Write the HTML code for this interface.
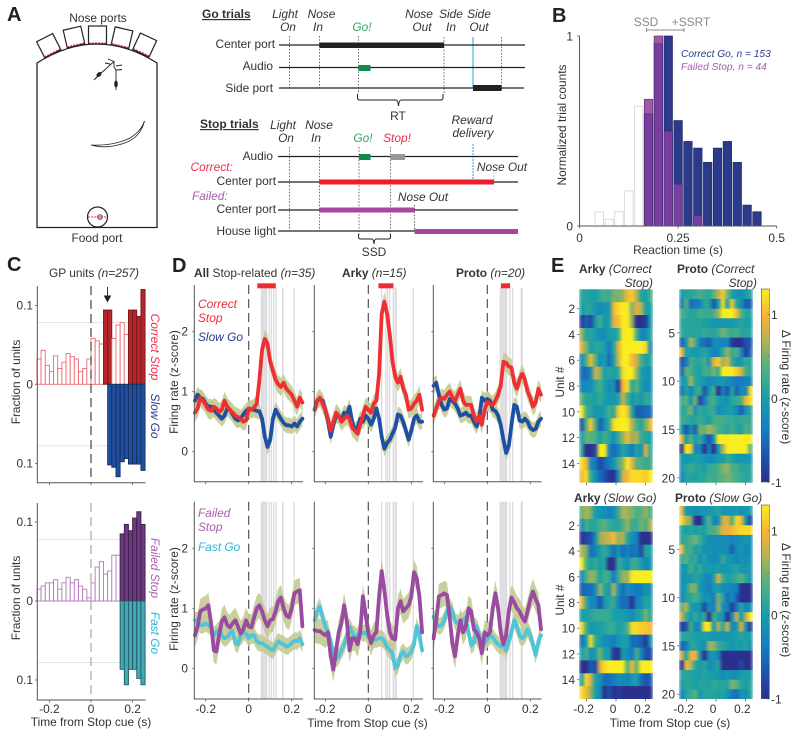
<!DOCTYPE html>
<html lang="en">
<head>
<meta charset="utf-8">
<title>Stop trial neural activity figure</title>
<style>
html,body{margin:0;padding:0;background:#fff;}
svg{display:block;font-family:"Liberation Sans",sans-serif;fill:#222;}
.pl{font-weight:bold;font-size:20px;fill:#222;}
.t{font-size:11.9px;fill:#333;}
.it{font-size:11.9px;font-style:italic;fill:#333;}
.m{text-anchor:middle;}
.e{text-anchor:end;}
</style>
</head>
<body>
<svg id="fig" xmlns="http://www.w3.org/2000/svg" width="800" height="737" viewBox="0 0 800 737">
<rect x="0" y="0" width="800" height="737" fill="#fff"/>

<!-- Panel A -->
<g>
<text class="pl" x="7" y="21">A</text>
<text class="t m" x="98" y="22">Nose ports</text>
<text class="t m" x="97" y="242">Food port</text>
<g fill="#fff" stroke="#222" stroke-width="1.2">
<g transform="translate(48.7,45.7) rotate(-27)"><rect x="-9" y="-9" width="18" height="18"/><line x1="-9" y1="8" x2="9" y2="8" stroke="#e8203a" stroke-dasharray="2 1.2" stroke-width="1"/></g>
<g transform="translate(74,37) rotate(-13)"><rect x="-9" y="-9" width="18" height="18"/><line x1="-9" y1="8" x2="9" y2="8" stroke="#e8203a" stroke-dasharray="2 1.2" stroke-width="1"/></g>
<g transform="translate(97.5,35)"><rect x="-9" y="-9" width="18" height="18"/><line x1="-9" y1="8" x2="9" y2="8" stroke="#e8203a" stroke-dasharray="2 1.2" stroke-width="1"/></g>
<g transform="translate(122,37.7) rotate(13)"><rect x="-9" y="-9" width="18" height="18"/><line x1="-9" y1="8" x2="9" y2="8" stroke="#e8203a" stroke-dasharray="2 1.2" stroke-width="1"/></g>
<g transform="translate(144.7,45) rotate(25)"><rect x="-9" y="-9" width="18" height="18"/><line x1="-9" y1="8" x2="9" y2="8" stroke="#e8203a" stroke-dasharray="2 1.2" stroke-width="1"/></g>
</g>
<path d="M37,227.5 L37,63 Q97,25 157,63 L157,227.5 Z" fill="none" stroke="#222" stroke-width="1.3"/>
<circle cx="97.5" cy="217" r="10" fill="#fff" stroke="#222" stroke-width="1.2"/>
<circle cx="100" cy="217" r="2.5" fill="#e8a0a0" stroke="#333" stroke-width="0.6"/>
<line x1="88" y1="217" x2="106" y2="217" stroke="#e8203a" stroke-width="1" stroke-dasharray="2 1.2"/>
<path d="M94,80 L99,75 L109,66 L114,61.5 L108,59 M114,61.5 L114,67 L116,70 L116,90 M110,64 L105,63 M116,66 L122,65 M116,70 L122,69.5" fill="none" stroke="#222" stroke-width="0.9"/>
<ellipse cx="99" cy="74.5" rx="2" ry="3" transform="rotate(45 99 74.5)" fill="#222"/>
<ellipse cx="116" cy="84" rx="1.8" ry="3.5" fill="#222"/>
<path d="M144.5,121 C141,135 132,142 118,145 C108,147.5 98,147 91,145 C106,146 120,143 130,138 C138,133 142,128 144.5,121 Z" fill="#fff" stroke="#222" stroke-width="0.8"/>
</g>

<!-- Go / Stop task diagram -->
<g>
<text x="202" y="18" font-weight="bold" font-size="12" fill="#333" text-decoration="underline">Go trials</text>
<g stroke="#333" stroke-width="0.7" stroke-dasharray="1.6 1.6" fill="none">
<line x1="289.5" y1="36" x2="289.5" y2="90"/>
<line x1="319.5" y1="36" x2="319.5" y2="90"/>
<line x1="358.5" y1="36" x2="358.5" y2="94"/>
<line x1="444" y1="37" x2="444" y2="94"/>
<line x1="501.5" y1="37" x2="501.5" y2="90"/>
<line x1="289.5" y1="147" x2="289.5" y2="231"/>
<line x1="319.5" y1="147" x2="319.5" y2="231"/>
<line x1="359" y1="147" x2="359" y2="235"/>
<line x1="390.5" y1="147" x2="390.5" y2="235"/>
<line x1="414.5" y1="205" x2="414.5" y2="231"/>
<line x1="494" y1="172" x2="494" y2="181" stroke="#888"/>
</g>
<line x1="473" y1="37" x2="473" y2="88" stroke="#27a9d8" stroke-width="1"/>
<line x1="473" y1="144" x2="473" y2="181" stroke="#27a9d8" stroke-width="1" stroke-dasharray="2 1"/>
<g stroke="#222" stroke-width="1.2">
<line x1="279" y1="45" x2="525" y2="45"/>
<line x1="279" y1="67.5" x2="525" y2="67.5"/>
<line x1="279" y1="88" x2="524" y2="88"/>
<line x1="278" y1="156.5" x2="518" y2="156.5"/>
<line x1="278" y1="182" x2="518" y2="182"/>
<line x1="278" y1="210" x2="518" y2="210"/>
<line x1="278" y1="231" x2="518" y2="231"/>
</g>
<rect x="319.5" y="42.5" width="124.5" height="5.5" fill="#222"/>
<rect x="358.5" y="65" width="12" height="6" fill="#0f8a4a"/>
<rect x="473" y="85" width="28.5" height="6" fill="#222"/>
<rect x="359" y="154" width="11.5" height="6" fill="#0f8a4a"/>
<rect x="390.5" y="154" width="14.5" height="6" fill="#999"/>
<rect x="319.5" y="179.5" width="174.5" height="5" fill="#ee1c2c"/>
<rect x="319.5" y="207.5" width="95" height="5" fill="#a9479f"/>
<rect x="414.5" y="229" width="103.5" height="5" fill="#a9479f"/>
<path d="M357.5,94 L357.5,98 Q357.5,100 360,100 L396,100 Q398,100 398.5,106 Q399,100 401,100 L440,100 Q443,100 443,98 L443,94" fill="none" stroke="#222" stroke-width="1"/>
<path d="M358.5,234 L358.5,237 Q358.5,239 361,239 L372,239 Q373.5,239 374,244 Q374.5,239 376,239 L388,239 Q390.5,239 390.5,237 L390.5,234" fill="none" stroke="#222" stroke-width="1"/>
<text class="t m" x="398" y="120">RT</text>
<text class="t m" x="374" y="256">SSD</text>
<g class="it">
<text class="it m" x="285" y="18">Light</text>
<text class="it m" x="288" y="31">On</text>
<text class="it m" x="321.5" y="18">Nose</text>
<text class="it m" x="318" y="31">In</text>
<text class="it m" x="362" y="31" style="fill:#2aa866">Go!</text>
<text class="it m" x="419" y="18">Nose</text>
<text class="it m" x="422" y="31">Out</text>
<text class="it m" x="451" y="18">Side</text>
<text class="it m" x="451" y="31">In</text>
<text class="it m" x="479" y="18">Side</text>
<text class="it m" x="479" y="31">Out</text>
<text class="it m" x="283" y="129">Light</text>
<text class="it m" x="286" y="142">On</text>
<text class="it m" x="319" y="129">Nose</text>
<text class="it m" x="316" y="142">In</text>
<text class="it m" x="363" y="142" style="fill:#2aa866">Go!</text>
<text class="it m" x="397" y="142" style="fill:#ee2c4a">Stop!</text>
<text class="it m" x="472" y="124">Reward</text>
<text class="it m" x="473" y="137">delivery</text>
<text class="it m" x="502" y="171">Nose Out</text>
<text class="it m" x="423" y="201">Nose Out</text>
<text class="it" x="190.5" y="171" style="fill:#ee2c4a">Correct:</text>
<text class="it" x="192" y="200" style="fill:#a860b0">Failed:</text>
</g>
<text class="t e" x="275" y="48">Center port</text>
<text class="t e" x="273" y="70">Audio</text>
<text class="t e" x="273" y="92">Side port</text>
<text x="200" y="128" font-weight="bold" font-size="12" fill="#333" text-decoration="underline">Stop trials</text>
<text class="t e" x="273" y="160">Audio</text>
<text class="t e" x="276" y="185">Center port</text>
<text class="t e" x="276" y="213">Center port</text>
<text class="t e" x="276" y="235">House light</text>
</g>

<!-- Panel B static text -->
<g>
<text class="pl" x="552" y="22">B</text>
<text class="t m" x="646" y="26" style="fill:#888">SSD</text>
<text class="t m" x="691" y="26" style="fill:#888">+SSRT</text>
<path d="M646.5,28 V32 M646.5,30 H684 M684,28 V32" stroke="#888" fill="none" stroke-width="0.9"/>
<text x="681" y="57" font-size="10.2" font-style="italic" fill="#2b3a8f">Correct Go, n = 153</text>
<text x="681" y="70" font-size="10.2" font-style="italic" fill="#a860b0">Failed Stop, n = 44</text>
<text class="t m" transform="translate(566,125) rotate(-90)">Normalized trial counts</text>
<text class="t m" x="678" y="254">Reaction time (s)</text>
</g>

<!-- Panel C static text -->
<g>
<text class="pl" x="7" y="271">C</text>
<text class="t m" x="94" y="277">GP units <tspan font-style="italic">(n=257)</tspan></text>
<text class="t m" transform="translate(20,382) rotate(-90)">Fraction of units</text>
<text class="t m" transform="translate(20,598) rotate(-90)">Fraction of units</text>
<text class="it m" transform="translate(151,347) rotate(90)" style="fill:#ee2c4a">Correct Stop</text>
<text class="it m" transform="translate(151,416) rotate(90)" style="fill:#2b3a8f">Slow Go</text>
<text class="it m" transform="translate(151,568) rotate(90)" style="fill:#a860b0">Failed Stop</text>
<text class="it m" transform="translate(151,633) rotate(90)" style="fill:#27b5e0">Fast Go</text>
<path d="M107.5,287 V298 M104.5,296 L107.5,301.5 L110.5,296 Z" fill="#222" stroke="#222" stroke-width="0.9"/>
<text class="t m" x="91" y="726">Time from Stop cue (s)</text>
</g>

<!-- Panel D static text -->
<g>
<text class="pl" x="172" y="272">D</text>
<text class="t" x="194" y="277"><tspan font-weight="bold">All</tspan> Stop-related <tspan font-style="italic">(n=35)</tspan></text>
<text class="t" x="342" y="277"><tspan font-weight="bold">Arky</tspan> <tspan font-style="italic">(n=15)</tspan></text>
<text class="t" x="456" y="277"><tspan font-weight="bold">Proto</tspan> <tspan font-style="italic">(n=20)</tspan></text>
<text class="it" x="198" y="308" style="fill:#ee2c3a">Correct</text>
<text class="it" x="198" y="322" style="fill:#ee2c3a">Stop</text>
<text class="it" x="198" y="341" style="fill:#2b3a8f">Slow Go</text>
<text class="it" x="198" y="517" style="fill:#a860b0">Failed</text>
<text class="it" x="198" y="531" style="fill:#a860b0">Stop</text>
<text class="it" x="198" y="551" style="fill:#27b5e0">Fast Go</text>
<text class="t m" transform="translate(178,382) rotate(-90)">Firing rate (z-score)</text>
<text class="t m" transform="translate(178,599) rotate(-90)">Firing rate (z-score)</text>
<text class="t m" x="367.5" y="727">Time from Stop cue (s)</text>
</g>

<!-- Panel E static text -->
<g>
<text class="pl" x="551" y="272">E</text>
<text class="t" x="579" y="273"><tspan font-weight="bold">Arky</tspan> <tspan font-style="italic">(Correct</tspan></text>
<text class="it e" x="653" y="287">Stop)</text>
<text class="t" x="677" y="273"><tspan font-weight="bold">Proto</tspan> <tspan font-style="italic">(Correct</tspan></text>
<text class="it e" x="757" y="287">Stop)</text>
<text class="t" x="574" y="502"><tspan font-weight="bold">Arky</tspan> <tspan font-style="italic">(Slow Go)</tspan></text>
<text class="t" x="675" y="502"><tspan font-weight="bold">Proto</tspan> <tspan font-style="italic">(Slow Go)</tspan></text>
<text class="t m" transform="translate(564,382) rotate(-90)">Unit #</text>
<text class="t m" transform="translate(564,600) rotate(-90)">Unit #</text>
<text class="t m" transform="translate(782,387) rotate(90)">Δ Firing rate (z-score)</text>
<text class="t m" transform="translate(782,600) rotate(90)">Δ Firing rate (z-score)</text>
<text class="t m" x="670" y="727">Time from Stop cue (s)</text>
</g>

<g id="charts"></g>
<defs>
<linearGradient id="parula" x1="0" y1="1" x2="0" y2="0"></linearGradient>
<filter id="heatSmooth" x="0" y="0" width="100%" height="100%" color-interpolation-filters="sRGB">
<feGaussianBlur stdDeviation="1.5 0.25" edgeMode="duplicate"/>
</filter>
</defs>
</svg>

<script>
/* ---------- Panel B data ---------- */
const rtBins = [0.05,0.075,0.1,0.125,0.15,0.175,0.2,0.225,0.25,0.275,0.3,0.325,0.35,0.375,0.4,0.425,0.45];
const correctGoCounts = [0.075,0.035,0.075,0.185,0.63,0.59,0.96,1,0.555,0.445,0.41,0.335,0.41,0.445,0.335,0.11,0.075];
const failedStopCounts = [0,0,0,0,0,0.667,1,0.5,0.22,0,0.055,0,0,0,0,0,0];
const rtTicks = ["0","0.25","0.5"];
const countTicks = ["0","1"];

/* ---------- Panel C data ---------- */
const fractionThreshold = [0.078];
const correctStopFraction = [.032,.043,.024,.016,.036,.02,.028,.039,.035,.032,.016,.02,.032,.058,.055,.051,.094,.094,.058,.075,.078,.063,.094,.094,.086,.12];
const slowGoFraction = [0,0,0,0,0,0,0,0,0,0,0,0,0,0,0,0,0,.102,.105,.117,.098,.094,.101,.101,.101,.109];
const failedStopFraction = [.015,.019,.023,.023,.027,.015,.023,.03,.023,.027,.019,.015,.004,.023,.043,.05,.034,.038,.058,.058,.085,.097,.089,.105,.113,.097];
const fastGoFraction = [0,0,0,0,0,0,0,0,0,0,0,0,0,0,0,0,0,0,0,0,.0865,.106,.0865,.0865,.098,.106];

/* ---------- Panel D data: mean z-score every 12.5 ms from -0.25 s ---------- */
const allCorrectStop = [.65,.72,.9,.85,.78,.7,.68,.75,.72,.66,.7,.85,.75,.7,.65,.6,.58,.55,.5,.52,.72,.7,.74,.8,1.2,1.7,1.88,1.8,1.5,1.35,1.2,1.12,1.08,1.15,1.05,1.0,.95,.85,.75,.9,.82];
const allSlowGo = [.85,.95,.9,.88,.8,.75,.75,.7,.65,.6,.55,.6,.72,.7,.62,.55,.52,.55,.62,.68,.72,.7,.7,.68,.67,.55,.25,.08,.2,.55,.7,.62,.55,.48,.44,.44,.42,.47,.42,.5,.55];
const arkyCorrectStop = [.7,.85,.9,.8,.7,.55,.35,.5,.65,.6,.5,.55,.6,.55,.4,.35,.3,.45,.6,.75,.7,.65,.8,.85,1.3,2.3,2.5,2.3,1.95,1.5,1.25,1.15,1.25,1.05,.95,.7,.72,.8,.85,.95,.7];
const arkySlowGo = [.7,.85,.88,.85,.7,.5,.25,.45,.6,.6,.52,.65,.62,.75,.5,.35,.4,.55,.5,.6,.55,.45,.55,.72,.55,.25,.05,.15,.2,.3,.4,.62,.6,.5,.35,.2,.35,.55,.6,.5,.5];
const protoCorrectStop = [.6,.72,.85,.9,.88,.95,1.0,.9,.85,.95,1.05,.85,.78,.78,.78,.6,.5,.6,.45,.7,.83,.8,.78,.85,.95,1.1,1.5,1.48,1.42,1.4,1.15,1.05,1.2,1.3,1.2,1.0,.9,.75,.82,1.05,.95];
const protoSlowGo = [1.1,1.15,.95,.78,.7,.72,.88,.85,.8,.72,.6,.62,.65,.6,.6,.5,.42,.55,.9,.85,.88,.85,.7,.68,.6,.45,.2,-.02,.1,.45,.78,.75,.52,.5,.55,.5,.4,.36,.38,.5,.55];
const allFailedStop = [.55,.7,.95,.98,1.0,1.05,.75,.3,.28,.55,.78,.85,.72,.68,.75,.8,.7,.58,.65,.8,.7,.68,.85,1.0,1.05,.95,.8,.7,.8,.82,.95,1.12,1.18,1.0,.88,.85,1.0,1.25,1.28,1.3,.7];
const allFastGo = [.8,.8,.72,.72,.75,.72,.68,.55,.6,.65,.55,.5,.52,.58,.62,.42,.4,.55,.62,.58,.5,.55,.55,.45,.42,.42,.38,.36,.32,.3,.38,.45,.42,.4,.36,.38,.42,.46,.45,.5,.4];
const arkyFailedStop = [.64,.62,.62,.58,.55,.6,.2,-.02,.3,.6,.75,1.05,.8,.3,.5,.5,.4,.6,1.2,.9,.6,.42,.55,.6,1.2,1.62,1.3,.9,.6,.5,.48,1.0,1.12,.95,1.0,1.05,1.2,1.6,1.5,1.2,.6];
const arkyFastGo = [.8,.95,1.03,.85,.7,.6,.45,.25,.15,.2,.3,.38,.55,.7,.6,.5,.55,.62,.58,.6,.52,.5,.48,.48,.5,.5,.45,.35,.3,.25,0,.05,.22,.28,.2,.22,.28,.4,.7,.55,.3];
const protoFailedStop = [.5,.8,1.2,1.22,1.25,1.22,.85,.4,.2,.55,.8,.6,.7,1.0,.95,.65,.6,.5,.25,.6,.55,.6,1.0,1.25,1.0,.6,.4,.55,.95,1.18,1.1,1.0,.95,.85,.78,.95,1.15,1.28,1.15,1.05,.65];
const protoFastGo = [.86,.75,.7,.72,.8,.95,1.03,.95,.78,.75,.78,.8,.85,.6,.38,.42,.7,.55,.45,.42,.48,.55,.52,.45,.4,.36,.42,.3,.45,.6,.8,.7,.55,.5,.55,.65,.55,.4,.22,.45,.55];
const traceSem = [0.15,0.13,0.21,0.14];
const allStopLatencies = [.059,.065,.071,.077,.083,.095,.105,.116,.127,.158,.159,.211];
const arkyStopLatencies = [.062,.082,.09,.1,.116,.124,.13,.209];
const protoStopLatencies = [.06,.066,.072,.078,.084,.09,.105,.118,.158,.162];
const allSigWindow = [.04,.126];
const arkySigWindow = [.047,.117];
const protoSigWindow = [.063,.106];
const traceYTicks = ["0","1","2"];
const timeTicks = ["-0.2","0","0.2"];

/* ---------- Panel E data: z-score heatmaps, rows = units, columns = time ---------- */
const arkyCorrectHeat = [
[.1,.1,0,0,.2,.3,.2,.5,.5,.6,1,1.1,.7,.1,0,.3],
[0,.1,.1,-.1,-.2,-.1,-.1,1,1.2,1.3,1.3,.5,.9,.7,0,0],
[-.9,-.6,-.8,-.1,.3,-.1,0,.9,1,1.3,1.3,.6,-1,-1,-.9,0],
[.6,.1,.1,0,-.2,-.2,0,0,.2,1.3,1.3,1.3,.3,-.3,-.2,.1],
[.9,.5,0,.1,.1,0,-.4,.1,.9,1.3,1.3,1.3,1.3,1.3,1.2,-.3],
[-.2,.3,1,.4,-.2,0,-.5,0,.8,1.3,1.3,1,.8,.3,0,.1],
[-.5,-.5,-.2,.8,.6,0,.1,0,.1,1.2,1.3,1.3,.6,0,-.1,-.2],
[-.3,-.2,-.2,.1,.3,0,-.2,-.1,-.9,1,1.2,.1,.4,0,-.2,-.2],
[.4,.1,.1,0,.2,0,-.1,-.1,0,.8,.3,-.1,.1,-.1,.2,.1],
[1.3,.3,.1,-.1,-.1,0,.3,.1,1.1,1.3,1.1,.1,-.6,-.6,-.5,-.5],
[-.7,.4,1.1,.3,-.6,-.2,.2,1.2,1.3,1.3,1.3,.7,.3,.1,.5,1],
[0,.4,.4,.3,0,.3,.1,-.2,.2,.6,1,.6,.7,.2,.1,0],
[.2,-1,-1,-.8,1.3,1.3,-.3,-.5,-.3,.1,-.1,-.4,.1,-.2,.9,.1],
[1.2,1,-.2,-.4,-.8,-.6,-.4,-.1,.3,.6,1.3,.9,.4,.3,.2,.2],
[1,1.2,.2,-.2,-.5,-.7,-.9,-1,-.2,.8,1,1.2,1.2,1.2,1.1,1.3]];
const protoCorrectHeat = [
[0,.1,.1,.2,.3,.2,.1,.4,.7,1.1,.5,0,-.1,-.2,0,.1],
[-.4,.4,-.5,-.4,-.3,.1,.1,-.7,-.1,1.2,0,1.1,.1,-.2,-.6,-.6],
[.3,.2,.1,.1,.3,.2,.2,.3,.6,1.3,1.3,1.3,1,.4,.1,.1],
[.1,.1,.1,.1,.1,0,0,-.1,-.1,-.1,-.1,-.1,0,.1,0,0],
[.2,.1,.1,.1,.1,.2,.1,.1,.2,.5,.3,.2,.3,.1,.1,.1],
[-.6,-.1,.7,.3,-.3,-.5,-.6,-.2,-.2,-.3,-.2,-.9,-1,-1,-.7,-.7],
[1,0,0,-.1,0,.1,-.1,-.3,-.3,.2,.6,.2,.3,-.2,-.9,-.5],
[-.7,-.4,.3,.1,.1,.3,-.1,.9,1.1,.6,.9,.2,-.1,-.1,.2,.1],
[-.6,.4,.3,.1,0,.3,.2,.5,.2,1.3,1.3,1.3,1.1,.8,.3,.1],
[-.1,0,.7,.1,0,-.1,-.2,-.2,-.1,-.1,-.2,-.3,-.4,-.4,-.3,-.3],
[-.5,.1,-.3,.1,.2,-.7,-.1,.3,-1,-.3,-.7,.1,-.6,-.2,-.3,1.2],
[.2,.4,-.1,.5,-.8,-.4,.2,.3,0,-.1,-.1,.1,.2,.3,1,1.2],
[.1,.2,.5,-.2,.2,0,.2,.2,-.2,-.1,0,0,-.2,-.6,-.1,.1],
[.2,.2,.1,.1,.2,.1,0,.3,.3,.3,.2,.2,.1,.2,.2,.2],
[0,-.7,-.2,-.6,.5,.4,.7,.5,.3,.2,.1,.3,.1,0,.4,.2],
[1,-.1,.4,-.1,.2,-.3,-.7,-.2,1.3,1.3,1.3,1.3,1.3,1.3,1.3,1.3],
[-1,1.3,1.1,-.4,-.2,-1,-.3,-1,-.1,.7,1.3,1.3,1.3,1.3,1.3,.4],
[-.1,-.1,0,0,0,-.1,-.2,-.2,0,0,.2,.1,-.1,-.1,-.1,-.1],
[-.1,.1,.2,.1,.1,0,.2,.2,.3,.5,.6,.3,.3,.1,.1,.1],
[-.3,.1,.1,0,.1,.1,.3,.2,.3,.4,.5,.4,.3,.2,.1,.1]];
const arkySlowHeat = [
[.4,.7,.5,0,-.1,-.2,-.3,-.2,.2,.7,.6,.5,.3,.4,.6,.3],
[-.2,.3,.1,.1,.3,.4,.2,.1,.1,.3,.6,.2,.2,.5,.3,.7],
[-1,-.8,-.7,-.2,.6,.7,.8,1,.6,.7,.1,-.2,-.3,-1,-1,-1],
[.7,.5,-.5,-.3,0,.2,-.1,-.5,-.1,-.5,-.3,-.5,-.4,-.8,.1,0],
[1.3,.3,0,.2,0,.1,-1,-1,.2,0,-.2,.2,.2,0,-.3,-.1],
[-.2,.3,.6,.5,0,.3,.2,-.4,.2,.6,.6,1.3,1.3,1.3,1.3,1.3],
[-.6,-.5,-.5,-.2,.6,.1,-.1,.7,-.1,-.5,-.2,-.3,-.4,-.4,-.1,-.2],
[1,.2,-.3,-.2,-.7,-.1,.1,.2,-.3,-.5,-.5,-1,-.3,-.2,.1,0],
[0,0,.1,.2,.2,.2,.2,0,0,0,-.1,-.2,0,.1,.5,.1],
[1.2,.3,-.1,0,0,.1,.2,.2,0,.1,.3,1.2,1.2,1.1,1.1,1],
[-.5,0,1.2,.2,0,-.2,-.2,-.4,-.1,0,0,-.5,-.5,-.6,-.9,-.1],
[0,.3,-.2,0,.5,0,0,-.9,-1,0,-.2,-.4,.3,-.3,-.7,-.8],
[-1,-1,-.6,-.8,.9,1.2,1.3,1.3,1.3,1.3,.3,1,.4,1.3,1.3,1.3],
[0,1.2,.8,0,-.1,-.5,-.5,-.4,-.2,-.2,-.3,-.1,0,-.5,-.7,-.6],
[1.2,1,.6,0,-.2,-1,-.7,-1,-.9,-1,-1,-1,-1,-1,-1,-1]];
const protoSlowHeat = [
[1,-.1,-.1,-.2,-.1,-.1,-.1,0,.1,-.1,-.1,-.1,0,-.2,-.1,0],
[1.2,.7,.5,-1,-1,-.1,.4,-.3,-.2,.8,.9,.3,1.2,1,-.1,-.8],
[.1,0,.1,0,.1,0,.3,.3,.5,.9,.9,1,1.1,1.2,1.2,1.2],
[.1,.2,.3,.5,.2,0,-.2,-.2,-.2,-.2,-.2,-.3,-.2,-.2,-.1,-.2],
[1,.2,.3,0,.1,-.2,-.1,-.2,-.2,-.2,-.2,-.6,-.2,-.1,-.3,-.2],
[.2,.4,.1,.2,-.2,.1,-.2,-.2,-.2,.2,-.1,-.1,-.3,-.1,-.2,-.1],
[-.1,-.1,.3,0,.2,-.1,0,-.1,0,-.1,-.1,0,.1,-.1,-.1,-.1],
[-.2,-.1,-.1,.1,0,-.2,-.3,0,.9,.2,0,.1,.2,.4,.1,-.1],
[-.2,0,.5,.5,-.1,-.2,-.4,-.1,0,-.2,-.2,-.3,-.3,-1,-1,-1],
[-.3,.1,.1,.3,.1,-.2,-.1,-.4,.5,.1,-.5,-.2,-.6,-1,-1,-1],
[.4,.7,0,-.1,-.1,-.8,-.2,-.4,.6,-.2,-.3,-.9,-.4,.1,-.3,-.1],
[.8,.2,-.1,.2,-.1,.2,-1,.3,0,-.1,-1,-.2,.8,-.1,.7,1.3],
[-.9,-.7,.3,-.3,-.2,1.2,1.3,-.1,.7,.1,.8,-.3,-.1,.9,-.2,-.9],
[.1,.1,.1,0,0,0,0,-.1,-.1,-.1,-.1,-.1,0,.1,0,0],
[-.6,-.4,.1,.1,-.1,-.2,.6,.6,.2,.1,0,-.1,0,-.1,.1,-.2],
[.8,.1,.9,1,-.1,-1,-.2,-.1,-.3,-1,-1,-1,-1,-1,-1,-1],
[-1,1,.7,.1,0,.1,-.2,-.1,.1,-1,-1,-1,-1,-.8,-1,-1],
[.1,.1,.1,0,0,.1,0,0,-.1,-.2,-.1,-.2,-.2,0,0,0],
[0,.1,.1,0,.1,.1,0,.2,.1,.1,.1,.5,.4,.1,0,.1],
[-.3,.1,.2,.4,-.1,.1,.1,.1,0,.1,-.1,-.4,-.5,-.1,-.2,.1]];
const arkyRowTicks = ["2","4","6","8","10","12","14"];
const protoRowTicks = ["5","10","15","20"];
const colorbarTicks = ["-1","0","1"];
const colorbarMinorTicks = [-0.5,0.5];

/* ---------- helpers ---------- */
const NS = "http://www.w3.org/2000/svg";
const root = document.getElementById("charts");
function mk(parent, tag, attrs, text) {
  const n = document.createElementNS(NS, tag);
  for (const k in attrs) n.setAttribute(k, attrs[k]);
  if (text !== undefined) n.textContent = text;
  parent.appendChild(n);
  return n;
}
function linear(d0, d1, r0, r1) {
  return function (v) { return r0 + (v - d0) * (r1 - r0) / (d1 - d0); };
}
const AXIS = "#555";

/* parula-like colour scale */
const paletteStops = [[0,[43,47,142]],[.12,[30,80,170]],[.27,[20,125,195]],[.43,[22,158,170]],[.6,[85,178,125]],[.75,[190,178,80]],[.85,[244,176,58]],[1,[249,236,32]]];
function colorAt(f) {
  f = Math.max(0, Math.min(1, f));
  for (let i = 1; i < paletteStops.length; i++) {
    if (f <= paletteStops[i][0]) {
      const a = paletteStops[i - 1], b = paletteStops[i];
      const u = (f - a[0]) / (b[0] - a[0]);
      return "rgb(" + a[1].map(function (c, j) { return Math.round(c + (b[1][j] - c) * u); }).join(",") + ")";
    }
  }
  return "rgb(249,236,32)";
}
const heatColor = function (v) { return colorAt((v + 1) / 2.3); };
const gradient = document.getElementById("parula");
paletteStops.forEach(function (s) {
  mk(gradient, "stop", { offset: s[0], "stop-color": "rgb(" + s[1].join(",") + ")" });
});

/* ---------- Panel B ---------- */
(function () {
  const g = mk(root, "g", {});
  
  
  const x = linear(0, 0.5, 579.5, 776.7);
  const y = linear(0, 1, 226, 36);
  const w = (x(0.025) - x(0)) * 0.86;
  rtBins.forEach(function (t, i) {
    const go = correctGoCounts[i], fail = failedStopCounts[i];
    const left = x(t) - w / 2;
    if (t < 0.16) {
      const r = mk(g, "rect", { x: left, y: y(go), width: w, height: y(0) - y(go), fill: "#fff", stroke: "#d8d8d8", "stroke-width": 0.9 });
      
      
      return;
    }
    const r = mk(g, "rect", { x: left, y: y(go), width: w, height: y(0) - y(go), fill: "#2b3a8a", stroke: "#1f2a66", "stroke-width": 0.7 });
    
    
    if (fail > 0) {
      const low = Math.min(go, fail);
      const o = mk(g, "rect", { x: left, y: y(low), width: w, height: y(0) - y(low), fill: "#7a3f9e", stroke: "#3f2a70", "stroke-width": 0.7 });
      
      
      if (fail > go) {
        const f = mk(g, "rect", { x: left, y: y(fail), width: w, height: y(low) - y(fail), fill: "#a25aa8", stroke: "#5a3a70", "stroke-width": 0.7 });
        
        
      }
    }
  });
  const ax = mk(g, "path", { d: "M" + x(0) + "," + y(1) + " V" + y(0) + " H" + x(0.5), fill: "none", stroke: AXIS, "stroke-width": 1 });
  
  
  rtTicks.forEach(function (lab) {
    const tk = mk(g, "line", { x1: x(+lab), x2: x(+lab), y1: y(0), y2: y(0) + 2.5, stroke: AXIS, "stroke-width": 0.8 });
    
    
    const tx = mk(g, "text", { x: x(+lab), y: 242, class: "t m" }, lab);
    
    
  });
  countTicks.forEach(function (lab) {
    const tx = mk(g, "text", { x: 573, y: y(+lab) + 4.5, class: "t e" }, lab);
    
    
    const tk = mk(g, "line", { x1: x(0) - 2.5, x2: x(0), y1: y(+lab), y2: y(+lab), stroke: AXIS, "stroke-width": 0.8 });
    
    
  });
})();

/* ---------- Panel C ---------- */
function drawFractionPanel(name, upper, lower, zeroY, axisTop, axisBottom, upStyle, upSigStyle, lowStyle, dashColor, labelTicks) {
  const g = mk(root, "g", {});
  
  
  const x = linear(0, 0.2, 91, 132.6);
  const yUp = linear(0, 0.1, zeroY, zeroY - 79);
  const yDown = linear(0, 0.1, zeroY, zeroY + 79);
  const bw = 0.02;
  const th = fractionThreshold[0];
  const l1 = mk(g, "line", { x1: 37, x2: 146, y1: yUp(th), y2: yUp(th), stroke: "#e2e2e2", "stroke-width": 1 });
  
  
  const l2 = mk(g, "line", { x1: 37, x2: 146, y1: yDown(th), y2: yDown(th), stroke: "#e2e2e2", "stroke-width": 1 });
  
  
  upper.forEach(function (v, i) {
    const t = (i - 13) * bw;
    const st = v > th ? upSigStyle : upStyle;
    const r = mk(g, "rect", { x: x(t), y: yUp(v), width: x(bw) - x(0), height: zeroY - yUp(v), fill: st[0], stroke: st[1], "stroke-width": 0.9 });
    
    
  });
  lower.forEach(function (v, i) {
    if (v <= 0) return;
    const t = (i - 13) * bw;
    const r = mk(g, "rect", { x: x(t), y: zeroY, width: x(bw) - x(0), height: yDown(v) - zeroY, fill: lowStyle[0], stroke: lowStyle[1], "stroke-width": 0.9 });
    
    
  });
  const d = mk(g, "line", { x1: x(0), x2: x(0), y1: axisTop, y2: axisBottom, stroke: dashColor, "stroke-width": 1.2, "stroke-dasharray": "9 5" });
  
  
  const ax = mk(g, "path", { d: "M37.3," + axisTop + " V" + axisBottom + " H145.5", fill: "none", stroke: AXIS, "stroke-width": 1 });
  
  
  timeTicks.forEach(function (lab) {
    const tk = mk(g, "line", { x1: x(+lab), x2: x(+lab), y1: axisBottom, y2: axisBottom + 2.5, stroke: AXIS, "stroke-width": 0.8 });
    
    
    if (labelTicks) {
      const tx = mk(g, "text", { x: x(+lab), y: 713, class: "t m" }, lab);
      
      
    }
  });
  [["0.1", yUp(0.1)], ["0", zeroY], ["0.1", yDown(0.1)]].forEach(function (p) {
    const tx = mk(g, "text", { x: 33, y: p[1] + 4, class: "t e" }, p[0]);
    
    
    const tk = mk(g, "line", { x1: 35, x2: 37.3, y1: p[1], y2: p[1], stroke: AXIS, "stroke-width": 0.8 });
    
    
  });
}
drawFractionPanel("correct-stop-slow-go-fraction-chart", correctStopFraction, slowGoFraction, 384.3, 286, 482.7, ["#fff", "#ee6a72"], ["#b5262c", "#7a1a1e"], ["#1f4f9e", "#15305f"], "#444", false);
drawFractionPanel("failed-stop-fast-go-fraction-chart", failedStopFraction, fastGoFraction, 601, 503, 700, ["#fff", "#b478bc"], ["#6a3a7c", "#3f2050"], ["#45a9b5", "#1f5a66"], "#a8a8a8", true);

/* ---------- Panel D ---------- */
function drawTraces(name, axisX, zeroX, endX, zeroY, axisTop, axisBottom, series, latencies, sigWindow, labelY, labelX) {
  const g = mk(root, "g", {});
  
  
  const x = linear(0, 0.2, zeroX, zeroX + 43);
  const y = linear(0, 1, zeroY, zeroY - 60);
  latencies.forEach(function (t) {
    const l = mk(g, "line", { x1: x(t), x2: x(t), y1: axisTop + (sigWindow ? 3 : 0), y2: axisBottom, stroke: "#dcdce0", "stroke-width": 1.3 });
    
    
  });
  if (sigWindow) {
    const s = mk(g, "rect", { x: x(sigWindow[0]), y: 283.3, width: x(sigWindow[1]) - x(sigWindow[0]), height: 5, fill: "#ee2c30" });
    
    
  }
  const d = mk(g, "line", { x1: zeroX, x2: zeroX, y1: axisTop, y2: axisBottom, stroke: "#444", "stroke-width": 1.1, "stroke-dasharray": "9 5" });
  
  
  const tOf = function (i) { return -0.25 + 0.0125 * i; };
  series.forEach(function (s) {
    const vals = s.values;
    let up = "", down = "";
    vals.forEach(function (v, i) { up += (i ? "L" : "M") + x(tOf(i)).toFixed(1) + "," + y(v + s.sem).toFixed(1); });
    for (let i = vals.length - 1; i >= 0; i--) { down += "L" + x(tOf(i)).toFixed(1) + "," + y(vals[i] - s.sem).toFixed(1); }
    const b = mk(g, "path", { d: up + down + "Z", fill: "#c4ca94", "fill-opacity": 0.9 });
    
    
  });
  series.forEach(function (s) {
    let line = "";
    s.values.forEach(function (v, i) { line += (i ? "L" : "M") + x(tOf(i)).toFixed(1) + "," + y(v).toFixed(1); });
    const p = mk(g, "path", { d: line, fill: "none", stroke: s.color, "stroke-width": 3.8, "stroke-linejoin": "round", "stroke-linecap": "round" });
    
    
  });
  const ax = mk(g, "path", { d: "M" + axisX + "," + axisTop + " V" + axisBottom + " H" + endX, fill: "none", stroke: AXIS, "stroke-width": 1 });
  
  
  traceYTicks.forEach(function (lab) {
    const tk = mk(g, "line", { x1: axisX - 2, x2: axisX, y1: y(+lab), y2: y(+lab), stroke: AXIS, "stroke-width": 0.8 });
    
    
    if (labelY) {
      const tx = mk(g, "text", { x: 188, y: y(+lab) + 4, class: "t e" }, lab);
      
      
    }
  });
  timeTicks.forEach(function (lab) {
    const tk = mk(g, "line", { x1: x(+lab), x2: x(+lab), y1: axisBottom, y2: axisBottom + 2.5, stroke: AXIS, "stroke-width": 0.8 });
    
    
    if (labelX) {
      const tx = mk(g, "text", { x: x(+lab), y: 713, class: "t m" }, lab);
      
      
    }
  });
}
const RED = "#ee3034", BLUE = "#1d50a2", PURPLE = "#9a4aa0", CYAN = "#50c4d8";
function topSeries(stop, go) {
  return [{ values: go, sem: traceSem[1], color: BLUE, name: "slow-go-trace" }, { values: stop, sem: traceSem[0], color: RED, name: "correct-stop-trace" }];
}
function bottomSeries(stop, go) {
  return [{ values: go, sem: traceSem[3], color: CYAN, name: "fast-go-trace" }, { values: stop, sem: traceSem[2], color: PURPLE, name: "failed-stop-trace" }];
}
drawTraces("all-correct-stop-chart", 194.3, 248.7, 303, 451.7, 285, 481.7, topSeries(allCorrectStop, allSlowGo), allStopLatencies, allSigWindow, true, false);
drawTraces("arky-correct-stop-chart", 314.3, 368.3, 423, 451.7, 285, 481.7, topSeries(arkyCorrectStop, arkySlowGo), arkyStopLatencies, arkySigWindow, false, false);
drawTraces("proto-correct-stop-chart", 433.3, 487.3, 541.6, 451.7, 285, 481.7, topSeries(protoCorrectStop, protoSlowGo), protoStopLatencies, protoSigWindow, false, false);
drawTraces("all-failed-stop-chart", 194.3, 248.7, 303, 668.3, 501.7, 699, bottomSeries(allFailedStop, allFastGo), allStopLatencies, null, true, true);
drawTraces("arky-failed-stop-chart", 314.3, 368.3, 423, 668.3, 501.7, 699, bottomSeries(arkyFailedStop, arkyFastGo), arkyStopLatencies, null, false, true);
drawTraces("proto-failed-stop-chart", 433.3, 487.3, 541.6, 668.3, 501.7, 699, bottomSeries(protoFailedStop, protoFastGo), protoStopLatencies, null, false, true);

/* ---------- Panel E ---------- */
function drawHeat(name, matrix, left, top, right, bottom, rowTicks, labelRight, labelX) {
  const g = mk(root, "g", {});
  
  
  const cells = mk(g, "g", { filter: "url(#heatSmooth)" });
  
  
  const rows = matrix.length, cols = matrix[0].length;
  const cw = (right - left) / cols, ch = (bottom - top) / rows;
  matrix.forEach(function (row, r) {
    row.forEach(function (v, c) {
      const cell = mk(cells, "rect", { x: left + c * cw, y: top + r * ch, width: cw + (c < cols - 1 ? 0.4 : 0), height: ch + (r < rows - 1 ? 0.4 : 0), fill: heatColor(v) });
      
      
    });
  });
  rowTicks.forEach(function (lab) {
    const yy = top + (+lab - 0.5) * ch;
    const tx = mk(g, "text", { x: labelRight, y: yy + 4.5, class: "t e", style: "font-size:12px" }, lab);
    
    
    const tk = mk(g, "line", { x1: left - 2, x2: left, y1: yy, y2: yy, stroke: AXIS, "stroke-width": 0.8 });
    
    
  });
  const x = linear(-0.25, 0.25, left, right);
  timeTicks.forEach(function (lab) {
    const tk = mk(g, "line", { x1: x(+lab), x2: x(+lab), y1: bottom, y2: bottom + 2.5, stroke: AXIS, "stroke-width": 0.8 });
    
    
    if (labelX) {
      const tx = mk(g, "text", { x: x(+lab) - 3, y: 713, class: "t m" }, lab);
      
      
    }
  });
}
drawHeat("arky-correct-stop-heatmap", arkyCorrectHeat, 579.3, 289.3, 652.7, 482.7, arkyRowTicks, 575, false);
drawHeat("proto-correct-stop-heatmap", protoCorrectHeat, 679.3, 289.3, 752.7, 482.7, protoRowTicks, 675, false);
drawHeat("arky-slow-go-heatmap", arkySlowHeat, 579.3, 506, 652.7, 699, arkyRowTicks, 575, true);
drawHeat("proto-slow-go-heatmap", protoSlowHeat, 679.3, 506, 752.7, 699, protoRowTicks, 675, true);

function drawColorbar(name, top, zeroY, bottom) {
  const g = mk(root, "g", {});
  
  
  const r = mk(g, "rect", { x: 761.3, y: top, width: 8, height: bottom - top, fill: "url(#parula)", stroke: "#555", "stroke-width": 0.6 });
  
  
  colorbarTicks.forEach(function (lab) {
    const yy = zeroY - (+lab) * 84;
    const tx = mk(g, "text", { x: 771, y: yy + 4.5, class: "t", style: "font-size:12px" }, lab);
    
    
    const tk = mk(g, "line", { x1: 767.5, x2: 769.3, y1: yy, y2: yy, stroke: "#444", "stroke-width": 0.6 });
    
    
  });
  colorbarMinorTicks.forEach(function (v) {
    const yy = zeroY - v * 84;
    const tk = mk(g, "line", { x1: 767.5, x2: 769.3, y1: yy, y2: yy, stroke: "#444", "stroke-width": 0.6 });
    
    
  });
}
drawColorbar("top-colorbar", 289, 398.3, 482);
drawColorbar("bottom-colorbar", 505, 615, 698.7);
</script>
</body>
</html>
